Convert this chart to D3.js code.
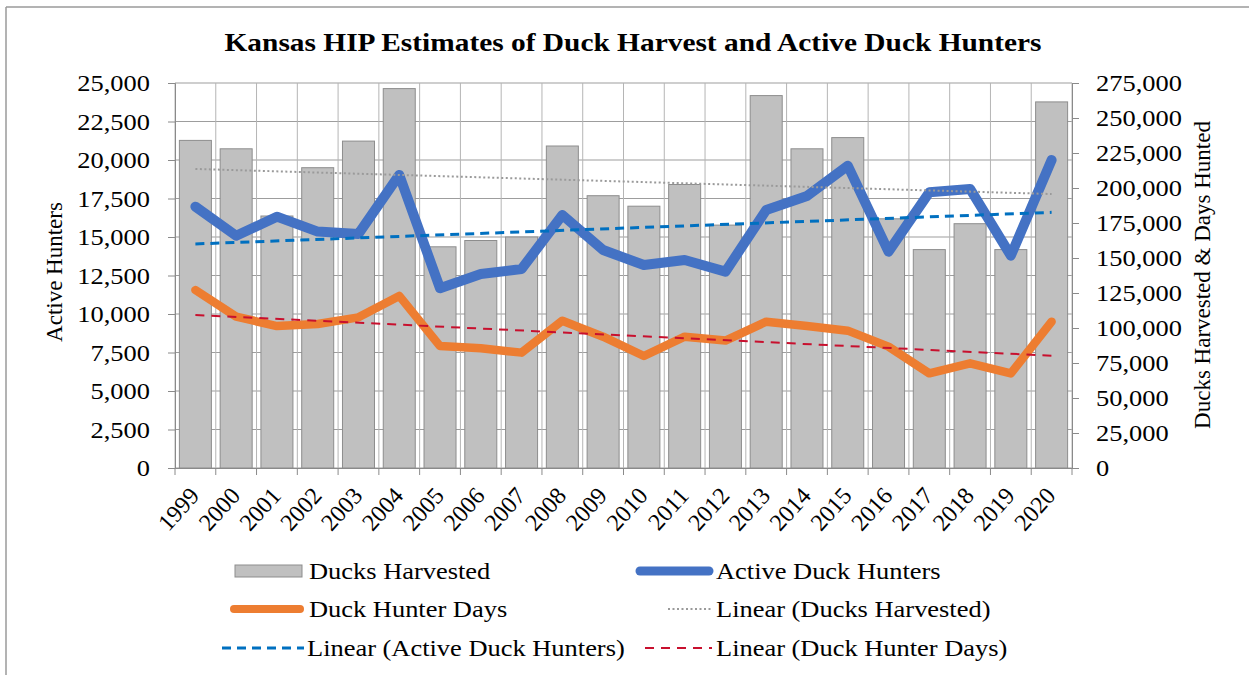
<!DOCTYPE html>
<html>
<head>
<meta charset="utf-8">
<script src="https://cdn.jsdelivr.net/npm/d3@7"></script>
<style>
  html, body { margin: 0; padding: 0; background: #fff; }
  svg { display: block; }
  text { font-family: "Liberation Serif", "Times New Roman", serif; fill: #000; }
</style>
</head>
<body>
<svg id="chart" width="1249" height="675"></svg>
<script>
// ---- data ----
const years = ["1999","2000","2001","2002","2003","2004","2005","2006","2007","2008","2009","2010","2011","2012","2013","2014","2015","2016","2017","2018","2019","2020"];
const ducksHarvested = [234000, 228000, 180000, 214500, 233500, 271000, 158000, 162500, 165000, 230000, 194500, 187000, 202500, 173500, 266000, 228000, 236000, 178000, 156000, 174500, 156000, 261500];
const activeHunters = [16970, 15080, 16320, 15350, 15200, 19030, 11670, 12600, 12920, 16430, 14160, 13180, 13510, 12750, 16750, 17660, 19630, 14050, 17900, 18120, 13790, 20000];
const hunterDays = [127100, 108100, 101400, 102900, 107600, 122900, 87100, 85500, 82400, 105200, 93800, 80000, 93800, 91000, 104500, 101400, 98100, 86700, 67600, 74800, 67600, 104500];
// linear trend lines: values at first and last year
const trendHarvest = [213600, 195700];
const trendHunters = [14550, 16600];
const trendDays = [109300, 80200];
const leftTicks = [0, 2500, 5000, 7500, 10000, 12500, 15000, 17500, 20000, 22500, 25000];
const rightTicks = [0, 25000, 50000, 75000, 100000, 125000, 150000, 175000, 200000, 225000, 250000, 275000];
const titleText = "Kansas HIP Estimates of Duck Harvest and Active Duck Hunters";
const leftTitle = "Active Hunters";
const rightTitle = "Ducks Harvested & Days Hunted";
const legendLabels = ["Ducks Harvested", "Active Duck Hunters", "Duck Hunter Days", "Linear (Ducks Harvested)", "Linear (Active Duck Hunters)", "Linear (Duck Hunter Days)"];

// ---- layout ----
const svg = d3.select("#chart");
const L = 175, R = 1072, T = 83, B = 468;
const SX = 1.15; // horizontal text stretch seen in the reference
const fmt = d3.format(",");

const x = d3.scaleBand().domain(years).range([L, R]).paddingInner(0).paddingOuter(0);
const yL = d3.scaleLinear().domain([0, 25000]).range([B, T]);
const yR = d3.scaleLinear().domain([0, 275000]).range([B, T]);
const cx = d => x(d) + x.bandwidth() / 2;
const barW = x.bandwidth() * 0.785;

// outer chart border (top & left visible)
svg.append("line").attr("x1", 6).attr("x2", 1249).attr("y1", 7).attr("y2", 7).attr("stroke", "#9a9a9a").attr("stroke-width", 1.5);
svg.append("line").attr("x1", 6).attr("x2", 6).attr("y1", 7).attr("y2", 675).attr("stroke", "#9a9a9a").attr("stroke-width", 1.5);

// gridlines
const grid = svg.append("g");
grid.selectAll("line.h").data(leftTicks).join("line")
  .attr("x1", L).attr("x2", R).attr("y1", d => yL(d)).attr("y2", d => yL(d))
  .attr("stroke", "#9d9d9d").attr("stroke-width", 1);
const bounds = years.map(d => x(d)).concat([R]);
grid.selectAll("line.v").data(bounds).join("line")
  .attr("x1", d => d).attr("x2", d => d).attr("y1", T).attr("y2", B)
  .attr("stroke", "#b5b5b5").attr("stroke-width", 1);

// bars
svg.append("g").selectAll("rect").data(years).join("rect")
  .attr("x", d => cx(d) - barW / 2)
  .attr("width", barW)
  .attr("y", (d, i) => yR(ducksHarvested[i]))
  .attr("height", (d, i) => B - yR(ducksHarvested[i]))
  .attr("fill", "#c0c0c0").attr("stroke", "#8d8d8d").attr("stroke-width", 1);

// axes
const axL = svg.append("g").attr("transform", `translate(${L},0)`)
  .call(d3.axisLeft(yL).tickValues(leftTicks).tickSize(7).tickFormat(fmt));
const axR = svg.append("g").attr("transform", `translate(${R},0)`)
  .call(d3.axisRight(yR).tickValues(rightTicks).tickSize(7).tickFormat(fmt));
const axB = svg.append("g").attr("transform", `translate(0,${B})`)
  .call(d3.axisBottom(x).tickValues(years).tickSize(0).tickFormat(d => d));
// x-axis tick marks at category boundaries
svg.append("g").selectAll("line").data(bounds).join("line")
  .attr("x1", d => d).attr("x2", d => d).attr("y1", B).attr("y2", B + 7)
  .attr("stroke", "#8a8a8a");

[axL, axR, axB].forEach(a => {
  a.select(".domain").attr("stroke", "#8a8a8a");
  a.selectAll(".tick line").attr("stroke", "#8a8a8a");
  a.selectAll("text").style("font-size", "23px").style("font-family", "Liberation Serif, serif");
});
axL.selectAll("text").attr("x", 0).attr("dy", "0.33em")
  .attr("text-anchor", "end").attr("transform", `translate(-25,0) scale(${SX},1)`);
axR.selectAll("text").attr("x", 0).attr("dy", "0.33em")
  .attr("text-anchor", "start").attr("transform", `translate(24,0) scale(${SX},1)`);
axB.selectAll("text").attr("x", 0).attr("y", 0).attr("dy", "0.35em")
  .style("font-size", "24px")
  .attr("text-anchor", "end").attr("transform", "translate(-1,23) rotate(-48)");

// lines
svg.append("path").datum(hunterDays)
  .attr("d", d3.line().x((d, i) => cx(years[i])).y(d => yR(d)))
  .attr("fill", "none").attr("stroke", "#ED7D31").attr("stroke-width", 8.5)
  .attr("stroke-linejoin", "round").attr("stroke-linecap", "round");
svg.append("path").datum(activeHunters)
  .attr("d", d3.line().x((d, i) => cx(years[i])).y(d => yL(d)))
  .attr("fill", "none").attr("stroke", "#4472C4").attr("stroke-width", 10)
  .attr("stroke-linejoin", "round").attr("stroke-linecap", "round");

// trend lines
const first = years[0], last = years[years.length - 1];
function trend(vals, scale, color, width, dash) {
  svg.append("line")
    .attr("x1", cx(first)).attr("x2", cx(last))
    .attr("y1", scale(vals[0])).attr("y2", scale(vals[1]))
    .attr("stroke", color).attr("stroke-width", width).attr("stroke-dasharray", dash);
}
trend(trendHarvest, yR, "#9a9a9a", 2, "2,2.5");
trend(trendHunters, yL, "#0070C0", 3, "9,6");
trend(trendDays, yR, "#C8102E", 2, "9,7");

// title
svg.append("text").attr("x", 633).attr("y", 51).attr("text-anchor", "middle")
  .attr("font-weight", "bold").style("font-size", "25px")
  .attr("textLength", 817).attr("lengthAdjust", "spacingAndGlyphs")
  .text(titleText);

// axis titles
svg.append("text").attr("transform", `translate(62,272) rotate(-90)`)
  .attr("text-anchor", "middle").style("font-size", "23px").text(leftTitle);
svg.append("text").attr("transform", `translate(1210,275) rotate(-90)`)
  .attr("text-anchor", "middle").style("font-size", "23px").text(rightTitle);

// legend
const lg = svg.append("g");
const rows = [571, 609, 648];
function ltext(xp, yp, t) {
  lg.append("text").attr("x", 0).attr("y", 0).attr("dy", "0.33em")
    .attr("transform", `translate(${xp},${yp}) scale(${SX},1)`)
    .style("font-size", "23px").text(t);
}
lg.append("rect").attr("x", 235).attr("y", rows[0] - 6).attr("width", 67).attr("height", 12)
  .attr("fill", "#c0c0c0").attr("stroke", "#8d8d8d");
ltext(309, rows[0], legendLabels[0]);
lg.append("line").attr("x1", 640).attr("x2", 709).attr("y1", rows[0]).attr("y2", rows[0])
  .attr("stroke", "#4472C4").attr("stroke-width", 9).attr("stroke-linecap", "round");
ltext(716, rows[0], legendLabels[1]);
lg.append("line").attr("x1", 234).attr("x2", 300).attr("y1", rows[1]).attr("y2", rows[1])
  .attr("stroke", "#ED7D31").attr("stroke-width", 8).attr("stroke-linecap", "round");
ltext(309, rows[1], legendLabels[2]);
lg.append("line").attr("x1", 668).attr("x2", 712).attr("y1", rows[1]).attr("y2", rows[1])
  .attr("stroke", "#9a9a9a").attr("stroke-width", 2).attr("stroke-dasharray", "2,2.5");
ltext(716, rows[1], legendLabels[3]);
lg.append("line").attr("x1", 222).attr("x2", 304).attr("y1", rows[2]).attr("y2", rows[2])
  .attr("stroke", "#0070C0").attr("stroke-width", 3).attr("stroke-dasharray", "9,6");
ltext(307, rows[2], legendLabels[4]);
lg.append("line").attr("x1", 645).attr("x2", 712).attr("y1", rows[2]).attr("y2", rows[2])
  .attr("stroke", "#C8102E").attr("stroke-width", 2).attr("stroke-dasharray", "9,7");
ltext(716, rows[2], legendLabels[5]);
</script>
</body>
</html>
